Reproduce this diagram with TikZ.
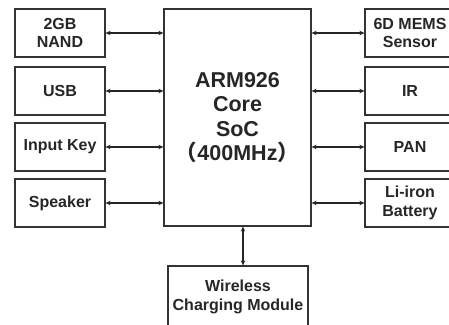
\documentclass[tikz,border=0pt]{standalone}
\usepackage{fontspec}
\setmainfont{Liberation Sans}
\newfontfamily\cjk{Noto Sans CJK SC}
\usetikzlibrary{arrows.meta}

\begin{document}
\begin{tikzpicture}[x=1pt,y=-1pt,
    every node/.style={align=center,inner sep=0pt,text=black!85,
      font=\bfseries\fontsize{16}{18.5}\selectfont},
    box/.style={draw=black!80,line width=1.2pt,rectangle,
      minimum width=90pt,minimum height=48pt},
    link/.style={{Stealth[length=5pt,width=4.5pt]}-{Stealth[length=5pt,width=4.5pt]},
      draw=black!85,line width=1.3pt}]

    \useasboundingbox (0,0) rectangle (449,324);

    %==================== SoC in the middle ====================
    \node[box,minimum width=147pt,minimum height=217pt,
      font=\bfseries\fontsize{21.5}{24.5}\selectfont] (core) at (237.5,117.5)
      {ARM926\\Core\\SoC\\{\cjk （}400MHz{\cjk ）}};

    %==================== Left side ====================
    \foreach \i/\y/\txt in {1/33/{2GB\\NAND},2/91/USB,3/147/Input Key,4/203/Speaker} {
      \node[box] (l\i) at (60,\y) {\txt};
      \draw[link] (l\i.east) -- (l\i.east -| core.west);
    }

    %==================== Right side ====================
    \foreach \i/\y/\txt in {1/33/{6D MEMS\\Sensor},2/91/IR,3/147/PAN,4/203/{Li-iron\\Battery}} {
      \node[box] (r\i) at (410,\y) {\txt};
      \draw[link] (core.east |- r\i.west) -- (r\i.west);
    }

    %==================== Bottom ====================
    \node[box,minimum width=140pt,minimum height=62pt] (wcm) at (238,297)
      {Wireless\\Charging Module};
    \draw[link] ([xshift=5.5pt]core.south) -- ([xshift=5.5pt]core.south |- wcm.north);

\end{tikzpicture}
\end{document}
